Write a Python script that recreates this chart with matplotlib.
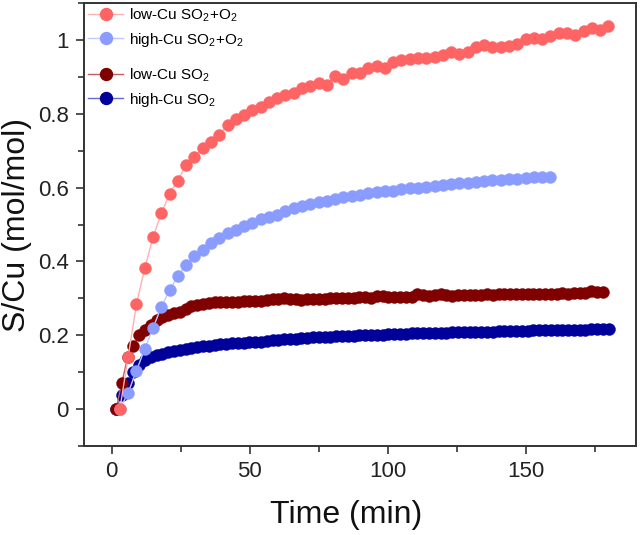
import numpy as np
import matplotlib
matplotlib.use("Agg")
import matplotlib.pyplot as plt
from matplotlib.ticker import MultipleLocator, FuncFormatter
from matplotlib.lines import Line2D

plt.rcParams['font.family'] = ['Liberation Sans', 'DejaVu Sans']
plt.rcParams['mathtext.fontset'] = 'custom'
plt.rcParams['mathtext.rm'] = 'Liberation Sans'

# ---------------- data ----------------
# low-Cu SO2+O2 (sampled every 3 min)
t_low_o2 = np.arange(3, 181, 3)
y_low_o2 = [0.0, 0.142, 0.284, 0.381, 0.465, 0.530, 0.583, 0.619, 0.661, 0.684,
            0.706, 0.724, 0.743, 0.770, 0.785, 0.797, 0.810, 0.819, 0.833, 0.842,
            0.851, 0.857, 0.869, 0.875, 0.883, 0.878, 0.902, 0.894, 0.910, 0.911,
            0.923, 0.930, 0.923, 0.939, 0.946, 0.948, 0.950, 0.950, 0.953, 0.959,
            0.968, 0.962, 0.968, 0.980, 0.986, 0.980, 0.982, 0.984, 0.989, 1.002,
            1.005, 1.003, 1.011, 1.018, 1.020, 1.014, 1.025, 1.032, 1.027, 1.038]

# high-Cu SO2+O2 (sampled every 3 min)
t_high_o2 = np.arange(3, 160, 3)
y_high_o2 = [0.0, 0.044, 0.104, 0.163, 0.219, 0.277, 0.322, 0.360, 0.390, 0.414,
             0.431, 0.449, 0.463, 0.476, 0.485, 0.496, 0.505, 0.514, 0.521, 0.526,
             0.537, 0.544, 0.550, 0.556, 0.560, 0.564, 0.568, 0.574, 0.577, 0.581,
             0.585, 0.587, 0.590, 0.592, 0.595, 0.598, 0.600, 0.602, 0.604, 0.606,
             0.609, 0.612, 0.613, 0.615, 0.619, 0.620, 0.621, 0.623, 0.624, 0.627,
             0.630, 0.628, 0.630]

# low-Cu SO2 (sampled every 2.1 min)
t_low = np.arange(85) * 2.1 + 1.6
y_low = [0.0, 0.071, 0.140, 0.172, 0.200, 0.215, 0.228, 0.242, 0.249, 0.254,
         0.259, 0.264, 0.272, 0.278, 0.283, 0.286, 0.288, 0.290, 0.291, 0.291,
         0.290, 0.291, 0.292, 0.292, 0.293, 0.294, 0.296, 0.297, 0.299, 0.300,
         0.298, 0.297, 0.296, 0.297, 0.297, 0.298, 0.299, 0.301, 0.301, 0.300,
         0.300, 0.302, 0.304, 0.303, 0.302, 0.305, 0.306, 0.304, 0.303, 0.304,
         0.303, 0.304, 0.313, 0.309, 0.307, 0.308, 0.312, 0.308, 0.307, 0.308,
         0.309, 0.310, 0.309, 0.310, 0.311, 0.310, 0.311, 0.312, 0.312, 0.311,
         0.312, 0.313, 0.312, 0.311, 0.313, 0.312, 0.313, 0.314, 0.313, 0.314,
         0.314, 0.315, 0.319, 0.318, 0.318]

# high-Cu SO2 (sampled every 2.1 min)
t_high = np.arange(86) * 2.1 + 1.6
y_high = [0.0, 0.038, 0.071, 0.101, 0.119, 0.133, 0.141, 0.146, 0.150, 0.155,
          0.158, 0.161, 0.164, 0.166, 0.169, 0.171, 0.172, 0.174, 0.175, 0.177,
          0.178, 0.180, 0.180, 0.181, 0.182, 0.183, 0.185, 0.186, 0.188, 0.189,
          0.190, 0.191, 0.192, 0.193, 0.194, 0.195, 0.196, 0.196, 0.197, 0.198,
          0.198, 0.199, 0.200, 0.200, 0.201, 0.202, 0.202, 0.203, 0.203, 0.204,
          0.204, 0.205, 0.205, 0.206, 0.206, 0.206, 0.207, 0.207, 0.208, 0.208,
          0.208, 0.209, 0.209, 0.210, 0.210, 0.210, 0.211, 0.211, 0.211, 0.212,
          0.212, 0.212, 0.213, 0.213, 0.213, 0.214, 0.214, 0.214, 0.215, 0.215,
          0.215, 0.215, 0.216, 0.216, 0.216, 0.217]

labels = ['low-Cu SO$_2$+O$_2$', 'high-Cu SO$_2$+O$_2$', 'low-Cu SO$_2$', 'high-Cu SO$_2$']

# ---------------- style ----------------
c_low_o2 = '#FF6464'
c_high_o2 = '#8A9CFF'
c_low = '#800000'
c_high = '#00009A'

fig = plt.figure(figsize=(6.4, 5.35), dpi=100)
ax = fig.add_axes([84/640, 1 - 446/535, (636-84)/640, (446-3)/535])

ms = 8.6
def series(x, y, c, lc, z):
    ax.plot(x, y, '-', color=lc, lw=1.0, zorder=z)
    ax.plot(x, y, 'o', ls='none', ms=ms, mfc=c, mec=c, mew=0.3, zorder=z + 0.5)

series(t_high, y_high, c_high, '#6a6ad0', 2)
series(t_low, y_low, c_low, '#c06060', 3)
series(t_high_o2, y_high_o2, c_high_o2, '#c0c8ff', 4)
series(t_low_o2, y_low_o2, c_low_o2, '#ffb0b0', 5)

ax.set_xlim(-10, 190)
ax.set_ylim(-0.1, 1.1)
ax.xaxis.set_major_locator(MultipleLocator(50))
ax.xaxis.set_minor_locator(MultipleLocator(25))
ax.yaxis.set_major_locator(MultipleLocator(0.2))
ax.yaxis.set_minor_locator(MultipleLocator(0.1))
ax.yaxis.set_major_formatter(FuncFormatter(lambda v, p: ('%g' % round(v, 2))))

for s in ax.spines.values():
    s.set_linewidth(1.4)
    s.set_color('#333333')
ax.tick_params(which='both', direction='out', top=False, right=False,
               color='#333333', width=1.2, labelsize=16, labelcolor='#222222')
ax.tick_params(which='major', length=6, pad=5)
ax.tick_params(which='minor', length=4)

ax.set_xlabel('Time (min)', fontsize=23, color='#111111')
ax.xaxis.set_label_coords(0.475, -0.122)
ax.set_ylabel('S/Cu (mol/mol)', fontsize=23, color='#111111', labelpad=4)


def handle(c, lc):
    return Line2D([], [], color=lc, lw=1.0, marker='o', ms=ms, mfc=c, mec=c)

leg1 = ax.legend([handle(c_low_o2, '#ffb0b0'), handle(c_high_o2, '#c0c8ff')],
                 labels[:2], loc='upper left', bbox_to_anchor=(88/640, 1 - 6/535),
                 bbox_transform=fig.transFigure, frameon=False, fontsize=11,
                 borderpad=0, borderaxespad=0, handlelength=2.3, handletextpad=0.4,
                 labelspacing=0.45)
ax.add_artist(leg1)
leg2 = ax.legend([handle(c_low, '#c06060'), handle(c_high, '#6a6ad0')],
                 labels[2:], loc='upper left', bbox_to_anchor=(88/640, 1 - 66/535),
                 bbox_transform=fig.transFigure, frameon=False, fontsize=11,
                 borderpad=0, borderaxespad=0, handlelength=2.3, handletextpad=0.4,
                 labelspacing=0.45)

fig.savefig('out.png', dpi=100)
